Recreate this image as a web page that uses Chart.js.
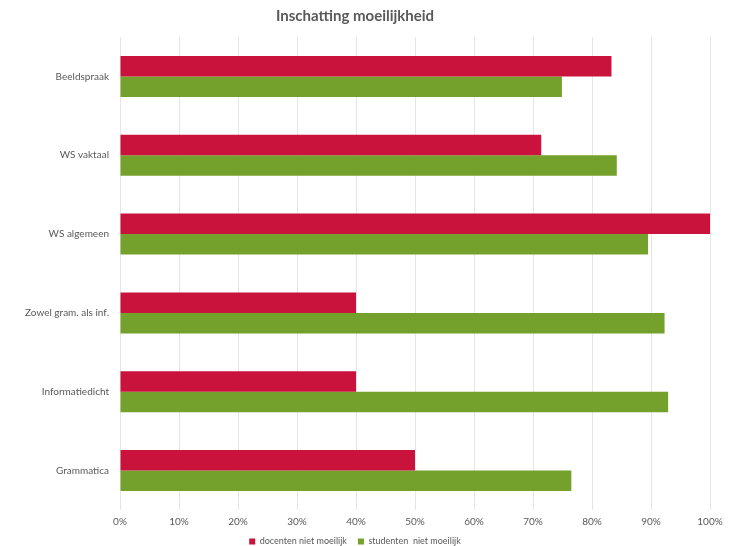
<!DOCTYPE html>
<html>
<head>
<meta charset="utf-8">
<script src="https://cdn.jsdelivr.net/npm/chart.js@4"></script>
<style>
  html, body { margin: 0; padding: 0; background: #fff; }
  #wrap { width: 734px; height: 546px; }
</style>
</head>
<body>
<div id="wrap"><canvas id="chart1"></canvas></div>
<script>
const categories = [
  'Beeldspraak',
  'WS vaktaal',
  'WS algemeen',
  'Zowel gram. als inf.',
  'Informatiedicht',
  'Grammatica',
];
const docenten = [83.3, 71.4, 100, 40, 40, 50];
const studenten = [74.9, 84.2, 89.5, 92.3, 92.9, 76.5];
const seriesNames = ['docenten niet moeilijk', 'studenten  niet moeilijk'];

const textColor = '#595959';

const chart1Context = document.getElementById('chart1').getContext('2d');
new Chart(chart1Context, {
  type: 'bar',
  data: {
    labels: categories,
    datasets: [{
      label: seriesNames[0],
      data: docenten,
      backgroundColor: '#C9123C',
    }, {
      label: seriesNames[1],
      data: studenten,
      backgroundColor: '#74A12B',
    }]
  },
  options: {
    indexAxis: 'y',
    responsive: true,
    maintainAspectRatio: false,
    animation: false,
    categoryPercentage: 0.52,
    barPercentage: 1,
    layout: {
      padding: { left: 0, right: 24, top: 0, bottom: -10 }
    },
    plugins: {
      title: {
        display: true,
        text: 'Inschatting moeilijkheid',
        color: textColor,
        font: { family: 'Lato', size: 15, weight: 'bold' },
        padding: { top: 7, bottom: 12 }
      },
      legend: {
        position: 'bottom',
        labels: {
          color: textColor,
          font: { family: 'Lato', size: 9 },
          boxWidth: 6,
          boxHeight: 6,
          padding: 11
        }
      },
      tooltip: { enabled: false }
    },
    scales: {
      x: {
        min: 0,
        max: 100,
        // keep the axis band short so the legend sits close under it
        afterFit: (scale) => { scale.height = 16; },
        grid: {
          color: '#e6e6e6',
          drawTicks: false
        },
        border: { display: false },
        ticks: {
          stepSize: 10,
          padding: 6,
          color: textColor,
          font: { family: 'Lato', size: 10 },
          callback: (value) => value + '%'
        }
      },
      y: {
        afterFit: (scale) => { scale.width = 120; },
        grid: { display: false, drawTicks: false },
        border: { display: false },
        ticks: {
          padding: 11,
          color: textColor,
          font: { family: 'Lato', size: 10 }
        }
      }
    }
  }
});
</script>
</body>
</html>
